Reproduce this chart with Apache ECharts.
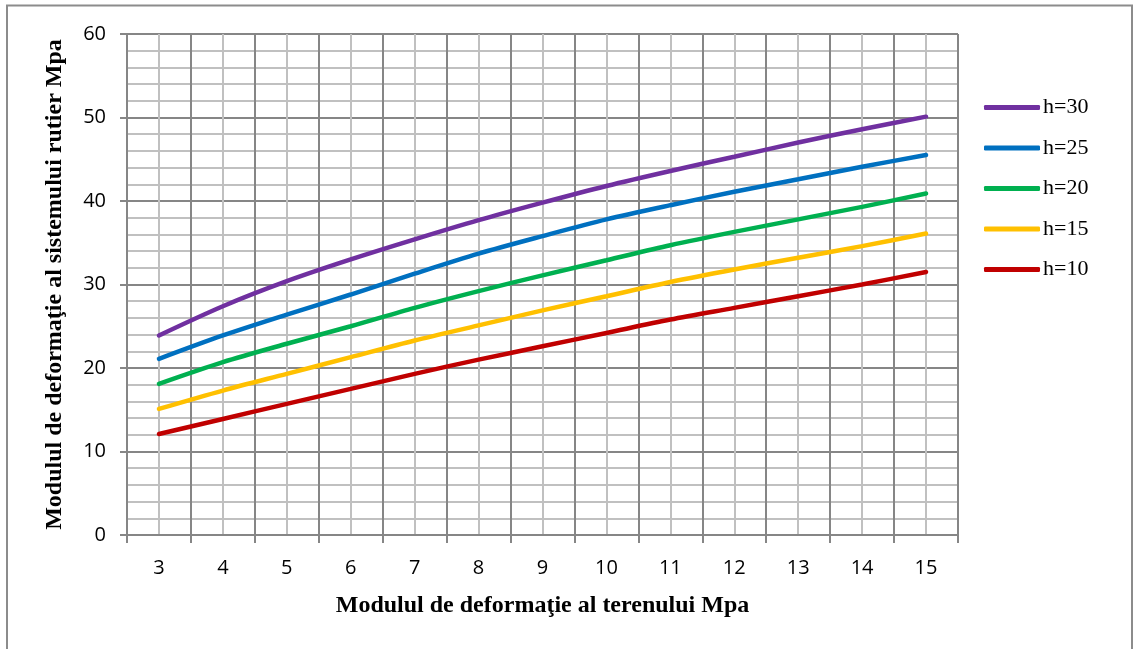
<!DOCTYPE html>
<html>
<head>
<meta charset="utf-8">
<script src="https://cdn.jsdelivr.net/npm/echarts@6/dist/echarts.min.js"></script>
<style>
  html, body { margin: 0; padding: 0; background: #fff; }
  #chart { width: 1135px; height: 649px; }
</style>
</head>
<body>
<div id="chart"></div>
<script>
// modulul terenului (axa x)
var categories = ['3', '4', '5', '6', '7', '8', '9', '10', '11', '12', '13', '14', '15'];
var seriesNames = ['h=30', 'h=25', 'h=20', 'h=15', 'h=10'];
var h30 = [23.9, 27.4, 30.4, 33.0, 35.4, 37.7, 39.8, 41.8, 43.6, 45.3, 47.0, 48.6, 50.1];
var h25 = [21.1, 23.9, 26.4, 28.8, 31.3, 33.7, 35.8, 37.8, 39.5, 41.1, 42.6, 44.1, 45.5];
var h20 = [18.1, 20.7, 22.9, 25.0, 27.2, 29.2, 31.1, 32.9, 34.7, 36.3, 37.8, 39.3, 40.9];
var h15 = [15.1, 17.3, 19.3, 21.3, 23.3, 25.1, 26.9, 28.6, 30.3, 31.8, 33.2, 34.6, 36.1];
var h10 = [12.1, 13.9, 15.7, 17.5, 19.3, 21.0, 22.6, 24.2, 25.8, 27.2, 28.6, 30.0, 31.5];
var colors = ['#7030A0', '#0070C0', '#00B050', '#FFC000', '#C00000'];

var myChart = echarts.init(document.getElementById('chart'));
var allData = [h30, h25, h20, h15, h10];

var series = allData.map(function (d, i) {
  return {
    name: seriesNames[i],
    type: 'line',
    xAxisIndex: 0,
    symbol: 'none',
    smooth: 0.3,
    lineStyle: { width: 4.5, color: colors[i], cap: 'round' },
    itemStyle: { color: colors[i] },
    z: 5,
    data: d
  };
});

var option = {
  backgroundColor: '#fff',
  animation: false,
  graphic: [{
    type: 'rect',
    shape: { x: 7, y: 5.5, width: 1125, height: 660 },
    style: { fill: 'none', stroke: '#8c8c8c', lineWidth: 2 },
    z: -1
  }],
  grid: { left: 127, right: 177, top: 34, bottom: 114 },
  legend: {
    orient: 'vertical',
    left: 979,
    top: 91.5,
    icon: 'roundRect',
    itemWidth: 56,
    itemHeight: 5,
    itemGap: 18.5,
    textStyle: { fontFamily: 'Liberation Serif', fontSize: 22, lineHeight: 22, color: '#000', padding: [0, 0, 0, -2] },
    data: seriesNames
  },
  xAxis: [
    {
      type: 'category',
      data: categories,
      boundaryGap: true,
      name: 'Modulul de deformaţie al terenului Mpa',
      nameLocation: 'middle',
      nameGap: 59,
      nameTextStyle: { fontFamily: 'Liberation Serif', fontWeight: 'bold', fontSize: 24, color: '#000' },
      axisLine: { lineStyle: { color: '#868686', width: 2 } },
      axisTick: { show: true, length: 8, lineStyle: { color: '#868686', width: 2 } },
      axisLabel: { fontFamily: 'Open Sans', fontSize: 20, color: '#000', margin: 23 },
      splitLine: { show: true, lineStyle: { color: '#868686', width: 2 } },
      z: 3
    },
    {
      // linii verticale secundare (la jumatatea fiecarei categorii)
      type: 'value',
      min: 0,
      max: 26,
      interval: 1,
      show: true,
      axisLine: { show: false },
      axisTick: { show: false },
      axisLabel: { show: false },
      splitLine: { show: true, lineStyle: { color: '#c0c0c0', width: 2 } },
      z: 1
    }
  ],
  yAxis: {
    type: 'value',
    min: 0,
    max: 60,
    interval: 10,
    name: 'Modulul de deformaţie al sistemului rutier Mpa',
    nameLocation: 'middle',
    nameGap: 60,
    nameRotate: 90,
    nameTextStyle: { fontFamily: 'Liberation Serif', fontWeight: 'bold', fontSize: 24, color: '#000' },
    axisLine: { show: true, lineStyle: { color: '#868686', width: 2 } },
    axisTick: { show: true, length: 7, lineStyle: { color: '#868686', width: 2 } },
    axisLabel: { fontFamily: 'Open Sans', fontSize: 20, color: '#000', margin: 21 },
    splitLine: { show: true, lineStyle: { color: '#868686', width: 2 } },
    minorTick: { show: false, splitNumber: 5 },
    minorSplitLine: { show: true, lineStyle: { color: '#c0c0c0', width: 2 } }
  },
  series: series
};

option && myChart.setOption(option);
</script>
</body>
</html>
